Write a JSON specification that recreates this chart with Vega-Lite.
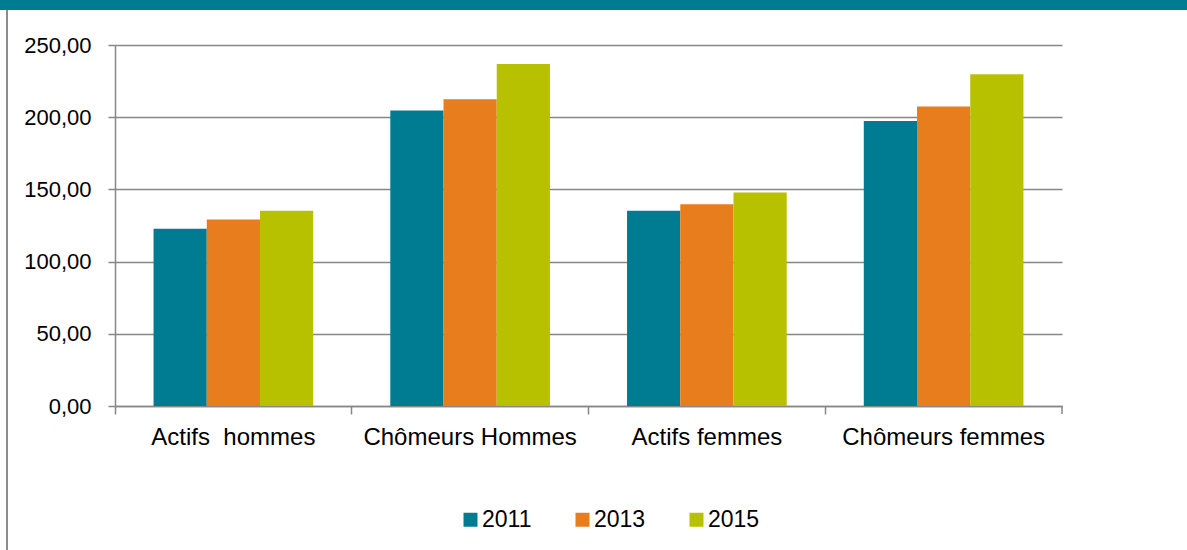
{
  "$schema": "https://vega.github.io/schema/vega-lite/v6.json",
  "padding": 0,
  "background": "white",
  "spacing": 0,
  "bounds": "flush",
  "config": {"view": {"stroke": null}, "font": "Liberation Sans"},
  "datasets": {
    "main": [
      {"cat": "Actifs\u00a0 hommes", "year": "2011", "value": 122.7},
      {"cat": "Actifs\u00a0 hommes", "year": "2013", "value": 129.2},
      {"cat": "Actifs\u00a0 hommes", "year": "2015", "value": 135.2},
      {"cat": "Chômeurs Hommes", "year": "2011", "value": 204.6},
      {"cat": "Chômeurs Hommes", "year": "2013", "value": 212.4},
      {"cat": "Chômeurs Hommes", "year": "2015", "value": 236.9},
      {"cat": "Actifs femmes", "year": "2011", "value": 135.2},
      {"cat": "Actifs femmes", "year": "2013", "value": 139.8},
      {"cat": "Actifs femmes", "year": "2015", "value": 147.9},
      {"cat": "Chômeurs femmes", "year": "2011", "value": 197.4},
      {"cat": "Chômeurs femmes", "year": "2013", "value": 207.4},
      {"cat": "Chômeurs femmes", "year": "2015", "value": 229.7}
    ]
  },
  "vconcat": [
    {
      "width": 1187, "height": 10,
      "data": {"values": [{}]},
      "mark": {"type": "point", "opacity": 0},
      "encoding": {},
      "view": {"fill": "#007C92", "stroke": null}
    },
    {
      "spacing": 0,
      "bounds": "flush",
      "hconcat": [
        {
          "width": 6, "height": 540,
          "data": {"values": [{}]},
          "mark": {"type": "point", "opacity": 0},
          "encoding": {},
          "view": {"stroke": null}
        },
        {
          "width": 2, "height": 540,
          "data": {"values": [{}]},
          "mark": {"type": "point", "opacity": 0},
          "encoding": {},
          "view": {"fill": "#8C8C8C", "stroke": null}
        },
        {
          "width": 107, "height": 540,
          "data": {"values": [{}]},
          "mark": {"type": "point", "opacity": 0},
          "encoding": {},
          "view": {"stroke": null}
        },
        {
          "spacing": 0,
          "bounds": "flush",
          "vconcat": [
            {
              "width": 947, "height": 35,
              "data": {"values": [{}]},
              "mark": {"type": "point", "opacity": 0},
              "encoding": {},
              "view": {"stroke": null}
            },
            {
              "width": 947, "height": 361,
              "data": {"name": "main"},
              "layer": [
                {
                  "mark": {"type": "bar"},
                  "encoding": {
                    "x": {
                      "field": "cat", "type": "nominal",
                      "scale": {"domain": ["Actifs\u00a0 hommes", "Chômeurs Hommes", "Actifs femmes", "Chômeurs femmes"], "paddingInner": 0, "paddingOuter": 0},
                      "axis": {
                        "title": null, "bandPosition": 0, "labelAngle": 0, "labelLimit": 0,
                        "labelFontSize": 24, "labelColor": "#000000", "labelPadding": 11,
                        "tickSize": 8, "tickColor": "#878787", "tickWidth": 1.5,
                        "domainColor": "#878787", "domainWidth": 1.5, "grid": false
                      }
                    },
                    "xOffset": {
                      "field": "year", "type": "nominal",
                      "scale": {"paddingInner": 0, "paddingOuter": 0.724}
                    },
                    "y": {
                      "field": "value", "type": "quantitative",
                      "scale": {"domain": [0, 250], "nice": false},
                      "axis": {
                        "title": null, "values": [0, 50, 100, 150, 200, 250],
                        "labelExpr": "replace(format(datum.value, '.2f'), '.', ',')",
                        "labelFontSize": 22, "labelColor": "#000000", "labelPadding": 17,
                        "tickSize": 7, "tickColor": "#878787", "tickWidth": 1.5,
                        "domainColor": "#878787", "domainWidth": 1.5,
                        "grid": true, "gridColor": "#878787", "gridWidth": 1.5
                      }
                    },
                    "color": {
                      "field": "year", "type": "nominal",
                      "scale": {"domain": ["2011", "2013", "2015"], "range": ["#007C92", "#E87D1E", "#B8C100"]},
                      "legend": {
                        "title": null, "orient": "none", "legendX": 459, "legendY": 508,
                        "direction": "horizontal", "columns": 3, "padding": 0,
                        "symbolType": "square", "symbolSize": 196, "symbolStrokeWidth": 0,
                        "labelFontSize": 23, "labelColor": "#000000", "labelOffset": 0,
                        "columnPadding": 39
                      }
                    }
                  }
                },
                {
                  "data": {"values": [{"cat": "Chômeurs femmes"}]},
                  "mark": {"type": "rule", "color": "#878787", "strokeWidth": 1.5, "y2Offset": 8},
                  "encoding": {
                    "x": {"field": "cat", "type": "nominal", "bandPosition": 1},
                    "y": {"datum": 0},
                    "y2": {"datum": 0}
                  }
                }
              ]
            }
          ]
        }
      ]
    }
  ]
}
